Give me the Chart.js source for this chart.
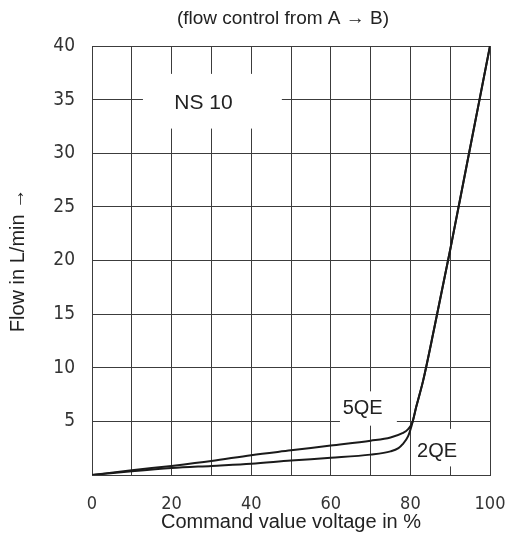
<!DOCTYPE html>
<html>
<head>
<meta charset="utf-8">
<script src="https://cdn.jsdelivr.net/npm/chart.js@4.4.1/dist/chart.umd.min.js"></script>
<style>
  html, body { margin: 0; padding: 0; background: #fff; }
  #wrap { width: 509px; height: 551px; }
</style>
</head>
<body>
<div id="wrap"><canvas id="flowChart"></canvas></div>
<script>
// command value voltage in % (x) and flow in L/min (y)
const voltage5QE = [0, 10, 20, 30, 40, 50, 60, 70, 75, 78, 79.5, 80.5, 81.5, 83.2, 86, 90, 94, 97, 100];
const flow5QE    = [0, 0.45, 0.85, 1.3, 1.85, 2.3, 2.75, 3.2, 3.5, 3.9, 4.3, 4.9, 6.4, 8.8, 13.7, 21.0, 28.6, 34.3, 40];

const voltage2QE = [0, 10, 20, 30, 40, 50, 60, 70, 75, 77, 78, 79.4, 80.3, 81.5, 83.2, 86, 90, 94, 97, 100];
const flow2QE    = [0, 0.35, 0.65, 0.85, 1.05, 1.35, 1.6, 1.9, 2.2, 2.5, 2.85, 3.6, 4.6, 6.4, 8.8, 13.7, 21.0, 28.6, 34.3, 40];

const xTickLabels = [0, 20, 40, 60, 80, 100];
const yTickLabels = [5, 10, 15, 20, 25, 30, 35, 40];

const chartTitle = '(flow control from A \u2192 B)';

// curve labels: text, anchor (data coords), white knock-out box [x0, x1, y0, y1]
const curveLabels = ['NS 10', '5QE', '2QE'];
const curveLabelAt = [[28, 34.7], [68, 6.2], [86.7, 2.2]];
const curveLabelBox = [[12.8, 47.7, 32.3, 37.4], [62.3, 76.6, 4.6, 7.8], [81.4, 93, 0.8, 4.3]];

const toPoints = (xs, ys) => xs.map((x, i) => ({ x: x, y: ys[i] }));

const lineColor = '#1a1a1a';
const gridColor = '#3c3c3c';
const narrow = "'Liberation Sans Narrow', 'DejaVu Sans Condensed', sans-serif";
const regular = "'Liberation Sans', Arial, sans-serif";

const curveLabelPlugin = {
    id: 'curveLabels',
    beforeDatasetsDraw(chart) {
        const ctx = chart.ctx;
        const xs = chart.scales.x;
        const ys = chart.scales.y;
        ctx.save();
        ctx.fillStyle = '#fff';
        curveLabelBox.forEach(b => {
            const x0 = xs.getPixelForValue(b[0]);
            const x1 = xs.getPixelForValue(b[1]);
            const y0 = ys.getPixelForValue(b[3]);
            const y1 = ys.getPixelForValue(b[2]);
            ctx.fillRect(x0, y0, x1 - x0, y1 - y0);
        });
        ctx.fillStyle = '#222';
        ctx.textAlign = 'center';
        ctx.textBaseline = 'middle';
        curveLabels.forEach((t, i) => {
            ctx.font = (i === 0 ? '21px ' : '20px ') + regular;
            ctx.fillText(t, xs.getPixelForValue(curveLabelAt[i][0]), ys.getPixelForValue(curveLabelAt[i][1]));
        });
        // title sits over the middle of the plot, a bit left
        ctx.font = '19px ' + regular;
        ctx.fillText(chartTitle, (chart.chartArea.left + chart.chartArea.right) / 2 - 8, 19);
        ctx.restore();
    }
};

new Chart(document.getElementById('flowChart'), {
    type: 'scatter',
    data: {
        datasets: [
            {
                label: '5QE',
                data: toPoints(voltage5QE, flow5QE),
                showLine: true,
                borderColor: lineColor,
                borderWidth: 2,
                pointRadius: 0,
                cubicInterpolationMode: 'monotone'
            },
            {
                label: '2QE',
                data: toPoints(voltage2QE, flow2QE),
                showLine: true,
                borderColor: lineColor,
                borderWidth: 2,
                pointRadius: 0,
                cubicInterpolationMode: 'monotone'
            }
        ]
    },
    options: {
        responsive: true,
        maintainAspectRatio: false,
        animation: false,
        layout: { padding: { top: 46, right: 19, bottom: 0, left: 0 } },
        plugins: {
            legend: { display: false },
            tooltip: { enabled: false },
            title: { display: false }
        },
        scales: {
            x: {
                type: 'linear',
                min: 0,
                max: 100,
                afterFit: s => {
                    s.height = 76;
                    s.paddingLeft = 0;
                    s.paddingRight = 0;
                },
                afterBuildTicks: s => {
                    s.ticks = [];
                    for (let v = 0; v <= 100; v += 10) s.ticks.push({ value: v });
                },
                ticks: {
                    color: '#333',
                    padding: 19,
                    maxRotation: 0,
                    autoSkip: false,
                    font: { family: narrow, size: 18 },
                    callback: v => (xTickLabels.includes(v) ? String(v) : '')
                },
                grid: { color: gridColor, lineWidth: 1, drawTicks: false },
                border: { color: gridColor, width: 1 },
                title: {
                    display: true,
                    text: 'Command value voltage in %',
                    color: '#222',
                    font: { family: regular, size: 20 },
                    padding: { top: 0, bottom: 17 }
                }
            },
            y: {
                type: 'linear',
                min: 0,
                max: 40,
                afterFit: s => {
                    s.width = 92;
                    s.paddingTop = 0;
                    s.paddingBottom = 0;
                },
                ticks: {
                    stepSize: 5,
                    color: '#333',
                    padding: 17,
                    font: { family: narrow, size: 19 },
                    callback: v => (yTickLabels.includes(v) ? String(v) : '')
                },
                grid: { color: gridColor, lineWidth: 1, drawTicks: false },
                border: { color: gridColor, width: 1 },
                title: {
                    display: true,
                    text: 'Flow in L/min \u2192',
                    color: '#222',
                    font: { family: regular, size: 20 },
                    padding: { top: 6, bottom: 0 }
                }
            }
        }
    },
    plugins: [curveLabelPlugin]
});
</script>
</body>
</html>
